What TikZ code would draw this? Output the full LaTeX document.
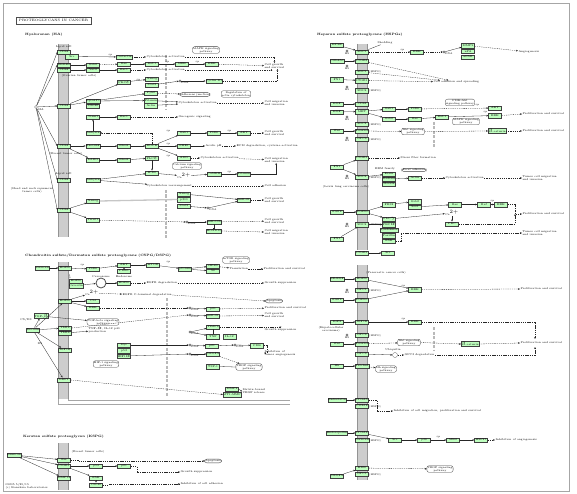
\documentclass[tikz,border=0pt]{standalone}
\usetikzlibrary{arrows.meta,positioning}
\definecolor{keggreen}{RGB}{191,255,191}
\definecolor{membgray}{RGB}{205,205,205}
\newcommand{\membrane}[4]{%
  \fill[membgray] (#1,#3) rectangle (#2,#4);
  \draw[gray!85, line width=1.2pt] (#1+0.6,#3) -- (#1+0.6,#4) (#2-0.6,#3) -- (#2-0.6,#4);}
\tikzset{
  gene/.style={draw=black!75, fill=keggreen, line width=0.3pt, minimum width=13pt,
    minimum height=4.6pt, inner sep=0.2pt, font=\fontsize{2.7}{3}\selectfont},
  pathway/.style={draw=black!75, fill=white, rounded corners=2.2pt, line width=0.3pt,
    inner sep=0.7pt, align=center, font=\fontsize{2.6}{2.9}\selectfont},
  txt/.style={inner sep=0.3pt, align=left, font=\fontsize{2.7}{3}\selectfont},
  sect/.style={inner sep=0, anchor=west, font=\bfseries\fontsize{3.2}{3.6}\selectfont},
  plab/.style={inner sep=0, font=\fontsize{2.5}{2.8}\selectfont},
  act/.style={-{Stealth[length=2pt,width=1.7pt]}, line width=0.3pt, black!85},
  ind/.style={act, dash pattern=on 1.3pt off 0.9pt},
  inh/.style={-{Bar[width=2.4pt]}, line width=0.3pt, black!85},
  bind/.style={line width=0.3pt, black!85},
  dna/.style={circle, draw=black!75, line width=0.3pt, minimum size=2.2pt, inner sep=0,
    label={[plab,yshift=0.3pt]below right:DNA}},
  hs/.style={circle, draw=black!75, line width=0.3pt, minimum size=2.2pt, inner sep=0,
    label={[plab]below:HS}},
  nucenv/.style={gray!55, line width=1.4pt, dash pattern=on 3pt off 1.5pt},
}
\begin{document}
\begin{tikzpicture}[x=1pt,y=-1pt]
\useasboundingbox (0,0) rectangle (577,494);
\draw[gray!70, line width=0.6pt] (3,3) rectangle (569,491);
\node[draw=black!70, line width=0.4pt, minimum width=75pt, minimum height=7pt, inner sep=0,
  font=\fontsize{3.4}{4}\selectfont] (title) at (53.5,20.5) {PROTEOGLYCANS IN CANCER};
\node[txt, anchor=north west] (stamp) at (5,483) {05205 5/25/15\\(c) Kanehisa Laboratories};

% ---------------- Hyaluronan ----------------
\node[sect] (haTitle) at (25,35) {Hyaluronan (HA)};
\membrane{58}{69}{44}{237}
\draw[nucenv] (166,55) -- (166,110);
\draw[nucenv] (166,190) -- (166,238);
\node[txt] (raftA) at (64,46.5) {Lipid raft};
\node[txt] (raftB) at (64,173.5) {Lipid raft};
\node[txt] (ovar) at (79,76) {(Ovarian tumor cells)};
\node[txt] (breast) at (66,154) {(Breast tumor cells)};
\node[txt, align=center] (hnsc) at (32,190) {(Head and neck squamous\\tumor cells)};
\node[circle, draw=black!80, line width=0.3pt, minimum size=3pt, inner sep=0] (ha) at (36,107) {};
\node[txt] (haLab) at (41,109.5) {HA};

\foreach \n/\x/\y/\t in {
  cdA/64/52/CD44, srcA/72/56.5/Src, cortactin/124/57/Cortactin,
  erbbA/64/65/ERBB2, cdB/64/70/CD44, grbA/93/65/Grb2, vavA/93/70/Vav2,
  rasA/124/64/Ras, racA/124/70/Rac1, rafA/152/64/Raf-1, mekA/182/64/MEK, erkA/212/64/ERK,
  pkcA/124/82/{PKC$\varepsilon$}, nanogA/152/79/Nanog, stat3A/152/85/Stat3,
  cyclin/214/81/{Cyclin D1},
  iqA/93/101/IQGAP1, cdcA/93/106/Cdc42, cdC/64/106/CD44,
  pyk2/151/93/Pyk2, filaminA/151/100.5/Filamin, actinA/151/105.5/Actin,
  tiamA/93/117/Tiam1, racB/124/117/Rac1, ankA/93/133/Ankyrin,
  cdD/64/146/CD44, gefA/93/146/RhoGEF, rhoA/124/146/RhoA, rock/152/146/ROCK,
  gab1/184/133/Gab1, pi3kA/214/133/PI3K, aktA/244/133/AKT, nhe/184/146/NHE1,
  larg/93/160/LARG, rhoB/124/160/RhoA, plc/152/158/{PLC$\varepsilon$}, add/184/158/ADD,
  ip3r/152/173/IP3R, camk/214/174/CaMKII, filaminB/244/174/Filamin,
  cdE/64/180/CD44, ankB/93/180/Ankyrin,
  cdF/64/210/CD44, nanogB/93/201/Nanog, twist/93/220/Twist1,
  nanogC/184/194/Nanog, p300/184/199.5/p300, stat3B/184/206/Stat3,
  mir21/244/200/miR-21, mir10/214/222/miR-10b, hoxd/214/231/HOXD10}
  \node[gene] (\n) at (\x,\y) {\t};

\node[pathway] (mapkA) at (206,50) {MAPK signaling\\pathway};
\node[pathway] (adher) at (195,94.5) {Adherens junction};
\node[pathway] (regact) at (236,94) {Regulation of\\actin cytoskeleton};
\node[pathway] (calc) at (187,166) {Calcium signaling\\pathway};

\node[txt, anchor=west] (caA) at (146,57) {Cytoskeleton activation};
\node[txt, anchor=west] (caB) at (146,70) {Cytoskeleton activation};
\node[txt, anchor=west] (cgA) at (264,66) {Cell growth\\and survival};
\node[txt, anchor=west] (caC) at (178,103) {Cytoskeleton activation};
\node[txt, anchor=west] (cmA) at (264,103) {Cell migration\\and invasion};
\node[txt, anchor=west] (onco) at (178,117) {Oncogenic signaling};
\node[txt, anchor=west] (cgB) at (264,133) {Cell growth\\and survival};
\node[txt, anchor=west] (acid) at (205,146) {Acidic pH};
\node[txt, anchor=west] (ecm) at (236,146) {ECM degradation, cysteine activation};
\node[txt, anchor=west] (caD) at (200,158) {Cytoskeleton activation};
\node[txt, anchor=west] (cmB) at (264,160) {Cell migration\\and invasion};
\node[txt] (caIon) at (184,176) {Ca$^{2+}$};
\node[txt, anchor=west] (crear) at (146,186) {Cytoskeleton rearrangement};
\node[txt, anchor=west] (adhes) at (264,186) {Cell adhesion};
\node[txt, anchor=west] (cgC) at (264,200) {Cell growth\\and survival};
\node[txt, anchor=west] (cgD) at (264,221) {Cell growth\\and survival};
\node[txt, anchor=west] (cmC) at (264,232) {Cell migration\\and invasion};
\node[dna] (dnaA) at (180,81) {};
\node[dna] (dnaB) at (208,208) {};
\node[dna] (dnaC) at (187,222) {};

\foreach \r in {cdA,erbbA,cdC,cdD,cdE,cdF}
  \draw[act] (ha) -- (\r.west);
\foreach \a/\b in {srcA/cortactin, erbbA/grbA, cdB/vavA, vavA/racA, rasA/rafA, rafA/mekA,
  mekA/erkA, cdC/pkcA, pkcA/nanogA, stat3A/dnaA, dnaA/cyclin, cdC/iqA, iqA/pyk2,
  iqA/filaminA, filaminA/caC, actinA/caC, ankA/tiamA, tiamA/racB, cdD/gefA, cdD/larg,
  gefA/rhoA, rhoA/rock, larg/rhoB, rhoB/plc, plc/ip3r, ankB/ip3r, rock/gab1, rock/nhe,
  rock/add, gab1/pi3kA, pi3kA/aktA, nhe/acid, ip3r/caIon, caIon/camk, camk/filaminB,
  ankB/crear, cdF/nanogB, cdF/twist, nanogC/mir21, stat3B/dnaB, dnaB/mir21, dnaC/mir10}
  \draw[act] (\a) -- (\b);
\foreach \a/\b in {cortactin/caA, grbA/rasA, erkA/cgA, racA/caB, racB/onco, aktA/cgB,
  acid/ecm, add/caD, caD/cmB, crear/adhes, mir21/cgC, twist/dnaC, mir10/cgD, caC/cmA, pyk2/adher}
  \draw[ind] (\a) -- (\b);
\draw[ind] (caA.east) -| (cgA.north);
\draw[ind] (caB.east) -| ([xshift=-3pt]cgA.south);
\draw[ind] (cyclin.east) -| ([xshift=3pt]cgA.south);
\draw[ind] (rock.north) |- (ankA.east);
\draw[act] (filaminB.east) -| (cmB.south);
\draw[ind] (hoxd.east) -- (cmC.west);
\draw[inh] (mir10) -- (hoxd);
\draw[gray!45, line width=1.3pt] (nanogB.east) -- (p300.west);
\foreach \x/\y in {110/54.5, 167/61.5, 197/61.5, 138/79.5, 168/131, 168/143.5, 168/155.5,
  229/131, 229/171.5}
  \node[plab] at (\x,\y) {+p};

% ---------------- CSPG / DSPG ----------------
\node[sect] (csTitle) at (25,256) {Chondroitin sulfate/Dermatan sulfate proteoglycans (CSPG/DSPG)};
\membrane{58}{69}{262}{399}
\draw[gray!70, line width=0.8pt] (58.6,399) -- (58.6,404.5) -- (290,404.5) (68.4,399) -- (68.4,400) -- (290,400);
\draw[nucenv] (167,298) -- (167,396);
\foreach \n/\x/\y/\t in {
  vcan/42/268/Versican, egfrA/65/268/EGFR, pi3kB/93/269/PI3K, aktB/124/265/AKT,
  pdk1/124/271/PDK1, mtor/153/265/mTOR, s6k/185/269/p70S6K, eif/213/266/eIF4B, s6/213/271/S6,
  egfrB/76/281/EGFR, cav/76/285.6/Caveolin, egfrC/124/283/EGFR,
  met/65/301/EGFR, cbl/93/301/Cbl, erkB/93/308/ERK,
  tgfb/41/316/{TGF-$\beta$}, decorin/33/330/Decorin, tlr2/65/328/TLR2, tlr4/65/333/TLR4,
  igf1rA/65/350/IGF1R, myc/124/345/Myc, p53/124/350.5/p53, hif/124/356/{HIF1$\alpha$},
  p21/213/309/p21, mir21B/213/316/miR-21, timp3/213/327/TIMP3, tnf/213/336.5/TNF,
  il12/229.5/336.5/IL-12, p21B/212/346/p21, cdk/257/345.5/CDK, vegfa/213/354/VEGFA,
  tsp1/213/366.5/TSP-1, mmp2/232/389/MMP2, mmp14/232/394.5/MT1-MMP, lrp/64/380/LRP1}
  \node[gene] (\n) at (\x,\y) {\t};
\node[pathway] (mtorp) at (236,260) {mTOR signaling\\pathway};
\node[pathway] (tgfp) at (103,322) {TGF-beta signaling\\pathway};
\node[pathway] (hifp) at (106,364) {HIF-1 signaling\\pathway};
\node[pathway] (vegfp) at (249,367) {VEGF signaling\\pathway};
\node[pathway] (apop) at (274,301) {Apoptosis};
\node[circle, draw=black!70, line width=0.8pt, minimum size=10pt, inner sep=0] (caveo) at (101,283) {};
\node[txt] (caveoLab) at (101,276.5) {Caveosome};
\node[txt] (endoLab) at (124,277) {Endosome};
\node[txt, anchor=west] (transl) at (229,269) {Translation};
\node[txt, anchor=west] (prolA) at (263,269) {Proliferation and survival};
\node[txt, anchor=west] (degA) at (146,283) {EGFR degradation};
\node[txt, anchor=west] (gsA) at (264,283) {Growth suppression};
\node[txt] (caIonB) at (92,293) {Ca$^{2+}$};
\node[txt, anchor=west] (ctd) at (122,295) {EGFR C-terminal degradation};
\node[txt] (csds) at (26,320) {CS/DS};
\node[txt] (dsLab) at (40,344) {DS};
\node[txt, anchor=west] (tnfTxt) at (88,330) {TNF-$\alpha$, IL-12 p40\\production};
\node[txt, anchor=west] (prolB) at (264,308) {Proliferation and survival};
\node[txt, anchor=west] (cgE) at (264,315.5) {Cell growth\\and survival};
\node[txt, anchor=west] (gsB) at (264,330) {Growth suppression};
\node[txt, anchor=west] (inang) at (264,353) {Inhibition of\\tumor angiogenesis};
\node[txt, anchor=west] (matrix) at (242,391.5) {Matrix-bound\\VEGF release};
\foreach \n/\x/\y in {dnaD/190/308, dnaE/190/315, dnaF/190/332, dnaG/190/345, dnaH/235/345, dnaI/190/354}
  \node[dna] (\n) at (\x,\y) {};

\foreach \a/\b in {vcan/egfrA, egfrA/pi3kB, pi3kB/aktB, pdk1/aktB, aktB/mtor, mtor/s6k,
  s6k/eif, s6k/s6, cav/caveo, caveo/egfrC, met/cbl, met/caIonB, met/erkB, decorin/tgfb,
  decorin/tlr2, decorin/igf1rA, decorin/met, tgfb/tgfp, tlr4/tnfTxt, dnaD/p21, dnaE/mir21B,
  dnaF/timp3, dnaF/tnf, dnaG/p21B, p21B/dnaH, dnaH/cdk, dnaI/vegfa, myc/dnaG, hif/dnaI,
  decorin/lrp}
  \draw[act] (\a) -- (\b);
\foreach \a/\b in {eif/transl, transl/prolA, egfrC/degA, degA/gsA, caIonB/ctd, erkB/dnaD,
  p21/prolB, mir21B/cgE, vegfa/vegfp}
  \draw[ind] (\a) -- (\b);
\draw[ind] (ctd.east) -- (apop.west);
\draw[ind] (tlr2.east) -- (dnaE.west);
\draw[ind] (timp3.east) -| (gsB.north);
\draw[ind] (cdk.east) -- ++(3,0) |- (inang.west);
\draw[ind] (lrp.east) -- (mmp14.west);
\draw[ind] (mmp2.east) -- (matrix.west);
\draw[bind] (timp3) -- (tnf);
\draw[act, gray!65, line width=0.8pt] (69,274) to[bend left=25] (egfrB.north west);
\draw[bind] (tsp1.east) -- (vegfp.west);
\node[plab] at (82,265) {+p};
\node[plab] at (168,262) {+p};

% ---------------- KSPG ----------------
\node[sect] (ksTitle) at (23,437) {Keratan sulfate proteoglycan (KSPG)};
\membrane{58}{69}{443}{490}
\foreach \n/\x/\y/\t in {
  lum/14/455/Lumican, fasR/64/460/Fas, itgK/64/466/ITGB1, mmpK/64/478/MMP14,
  p53K/96/466/p53, p21K/124/466/p21, fakK/96/478/FAK, cdhK/96/485/Cdc42}
  \node[gene] (\n) at (\x,\y) {\t};
\node[txt] (brK) at (88,452) {(Breast tumor cells)};
\node[pathway] (apopK) at (213,461) {Apoptosis};
\node[txt, anchor=west] (gsK) at (180,472) {Growth suppression};
\node[txt, anchor=west] (icaK) at (180,484) {Inhibition of cell adhesion};
\foreach \a/\b in {lum/fasR, lum/itgK, lum/mmpK, itgK/p53K, p53K/p21K, itgK/fakK, fakK/cdhK}
  \draw[act] (\a) -- (\b);
\draw[ind] (fasR.east) -- ++(8,0) |- (apopK.west);
\draw[ind] (p21K.east) -- ++(6,0) |- (gsK.west);
\draw[ind] (cdhK.east) -- ++(6,0) |- (icaK.west);

% ---------------- HSPGs ----------------
\node[sect] (hsTitle) at (317,35) {Heparan sulfate proteoglycans (HSPGs)};
\membrane{357}{368}{44}{250}
\membrane{357}{368}{265}{480}
\draw[nucenv] (434,122) -- (434,148);
\draw[nucenv] (434,327) -- (434,350);
\foreach \n/\x/\y/\t in {
  hpse/337/45/HPSE, sdc1A/362/52/SDC1, erkR/417/52/ERK,
  mmp9/468/45.5/MMP9, upa/468/51.2/uPA, upar/468/57/uPAR,
  col/337/61/COL4A1, itgA/362/61/ITGB3, sdc1B/362/72/SDC1, fn/337/79.5/FN1,
  itgB/362/80.5/ITGB1, sdc4A/362/90.5/SDC4, hgf/337/104/HGF, cd44R/362/104/CD44,
  metR/362/111.5/MET, hgfB/337/112/HGF, gab1R/389/109/Gab1, grb2R/389/119/Grb2,
  pi3kR/415/109/PI3K, rasR/415/119/Ras, rafR/442/117/Raf-1, aktR/495/108/AKT, erkR1/495/115.5/ERK,
  sdcR/362/124/SDC2,
  wnt/337/131/Wnt, fzdA/362/131/Frizzled, gpc3A/362/139/GPC3, ctnR/497/131/{$\beta$-catenin},
  itgC/362/158/ITGB1, fnB/337/167/FN1, sdc4B/362/177/SDC4,
  ezrin/389/174/Ezrin, radixin/389/179/Radixin, moesin/389/184/Moesin, actinR/415/178/Actin,
  fgf2/337/212/FGF2, fgfr1/363/212/FGFR1, frs2/389/204.5/FRS2, plcg/389/219/{PLC$\gamma$},
  grb2B/415/201.5/Grb2, sos1/415/207/Sos1, rasB/455/204.5/Ras, rafB/484/204.5/Raf, erkR2/501/204.5/ERK,
  pkcR/452/224/PKC, sdc4C/362/224.5/SDC4, pkca/389/224.5/{PKC$\alpha$}, synd/389/230/Syndesmos,
  pax/389/235.5/Paxillin, fak/389/241/FAK, fnC/337/239/FN1, itgD/362/253/ITGB1, srcR/388/253/Src,
  hbegf/337/279/HB-EGF, egfrR/362/279/EGFR, gpc1/362/290/GPC1, fgf2B/337/300/FGF2,
  fgfr1B/362/300/FGFR1, erkR3/415/289.5/ERK,
  igf2/337/322/IGF2, igf1r/362/322/IGF1R, erkR4/415/322/ERK, gpc3B/362/335/GPC3,
  wnt5/337/344/Wnt, fzdB/362/344/Frizzled, ctnB/470/344/{$\beta$-catenin}, gpc3C/362/354/GPC3,
  hh/337/366/Hh, ptch/362/366/Patched,
  endost/337/400/Endostatin, itga5/362/400/ITGA5, col18/362/406/COL18,
  endorep/337/433/Endorepellin, itga2/362/433/ITGA2, perl/362/440/Perlecan,
  srcL/395/440/Src, p38/424/440/p38, mk2/453/440/MK2, hsp27/481/440/HSP27,
  vegfL/337/476/VEGFA, kdr/362/468/KDR, gpcL/362/474/GPC1}
  \node[gene] (\n) at (\x,\y) {\t};

\node[pathway] (pi3kp) at (460,102.5) {PI3K-Akt\\signaling pathway};
\node[pathway] (mapkR) at (466,121.5) {MAPK signaling\\pathway};
\node[pathway] (wntpA) at (413,131.5) {Wnt signaling\\pathway};
\node[pathway] (focal) at (414,170) {Focal adhesion};
\node[pathway] (wntpB) at (409,342.5) {Wnt signaling\\pathway};
\node[pathway] (hhp) at (386,369) {Hh signaling\\pathway};
\node[pathway] (vegfpR) at (440,469) {VEGF signaling\\pathway};
\node[txt] (shed) at (385,43) {Shedding};
\node[txt, anchor=west] (angio) at (518,52) {Angiogenesis};
\node[txt, anchor=west] (adhR) at (433,82) {Cell adhesion and spreading};
\node[txt, anchor=west] (prolR1) at (522,114) {Proliferation and survival};
\node[txt, anchor=west] (prolR2) at (522,131) {Proliferation and survival};
\node[txt, anchor=west] (stress) at (400,158) {Stress fiber formation};
\node[txt] (erm) at (385,168.5) {ERM family};
\node[txt, anchor=west] (caR) at (445,178) {Cytoskeleton activation};
\node[txt, anchor=west] (tumR1) at (522,178) {Tumor cell migration\\and invasion};
\node[txt] (lewis) at (346,186.5) {(Lewis lung carcinoma cells)};
\node[txt] (caIonR) at (452,213) {Ca$^{2+}$};
\node[txt, anchor=west] (prolR3) at (522,214) {Proliferation and survival};
\node[txt, anchor=west] (tumR2) at (522,233) {Tumor cell migration\\and invasion};
\node[txt] (panc) at (386,273) {(Pancreatic cancer cells)};
\node[txt, anchor=west] (prolR4) at (520,289) {Proliferation and survival};
\node[txt, align=center] (hcc) at (331,329) {(Hepatocellular\\carcinoma)};
\node[txt, anchor=west] (prolR5) at (520,343) {Proliferation and survival};
\node[circle, draw=black!60, line width=0.3pt, minimum size=5pt, inner sep=0] (ubq) at (395,355) {};
\node[txt] (ubqLab) at (393,350) {Ubiquitin};
\node[txt, anchor=west] (degR) at (404,355) {GPC3 degradation};
\node[txt, anchor=west] (inmig) at (393,411) {Inhibition of cell migration, proliferation and survival};
\node[txt, anchor=west] (inangR) at (495,440) {Inhibition of angiogenesis};
\foreach \n/\x/\y in {hs1/347/51, hs2/347/66, hs3/347/87, hs4/347/117, hs5/347/138,
  hs6/347/176, hs7/347/224, hs8/347/290, hs9/347/335}
  \node[hs] (\n) at (\x,\y) {};
\node[dna] (dnaR) at (444,52) {};
\foreach \l/\y in {sdc1B/71.5, sdc4A/91, sdcR/124.5, gpc3A/139.5, sdc4B/177.5, sdc4C/225,
  gpc1/291, gpc3B/336, col18/406.5, perl/440.5, gpcL/474.5}
  \node[plab, anchor=west] at (369,\y) {(HSPG)};

\foreach \a/\b in {hpse/sdc1A, col/itgA, fn/itgB, hgf/cd44R, hgfB/metR, metR/gab1R,
  metR/grb2R, gab1R/pi3kR, grb2R/rasR, rasR/rafR, rafR/erkR1, wnt/fzdA, fnB/itgC, fnB/sdc4B,
  sdc4B/ezrin, radixin/actinR, fgf2/fgfr1, fgfr1/frs2, fgfr1/plcg, frs2/grb2B, sos1/rasB,
  rasB/rafB, rafB/erkR2, plcg/caIonR, caIonR/pkcR, fnC/sdc4C, sdc4C/pkca, itgD/srcR,
  hbegf/egfrR, fgf2B/fgfr1B, egfrR/erkR3, fgfr1B/erkR3, igf2/igf1r, igf1r/erkR4, wnt5/fzdB,
  hh/ptch, dnaR/mmp9, gpc3C/ubq, endost/itga5, endorep/itga2, itga2/srcL, srcL/p38,
  p38/mk2, mk2/hsp27, vegfL/kdr}
  \draw[act] (\a) -- (\b);
\foreach \a/\b in {sdc1A/erkR, itgA/adhR, sdc1B/adhR, itgB/adhR, pi3kR/aktR, fzdA/wntpA,
  itgC/stress, actinR/caR, caR/tumR1, fzdB/wntpB, ptch/hhp, ubq/degR, mmp9/angio,
  hsp27/inangR, kdr/vegfpR}
  \draw[ind] (\a) -- (\b);
\draw[ind] (itga5.east) -- ++(8,0) |- (inmig.west);
\draw[ind] (erkR) -- (dnaR);
\draw[ind] (erkR1.east) -- (prolR1.west);
\draw[ind] (wntpA.east) -- (ctnR.west);
\draw[ind] (ctnR.east) -- (prolR2.west);
\draw[ind] (erkR2.east) -- (515,204.5) |- (prolR3.west);
\draw[ind] (pkcR.east) -| (515,214);
\draw[ind] (fak.east) -- ++(5,0) |- (tumR2.west);
\draw[ind] (erkR3.east) -- (prolR4.west);
\draw[ind] (erkR4.east) -- (535,322) -- (535,339);
\draw[ind] (wntpB.east) -- (ctnB.west);
\draw[ind] (ctnB.east) -- (prolR5.west);
\draw[ind] (degR.east) -| (535,347);
\draw[bind] (sdc1A) -- (shed);
\foreach \x/\y in {402/49.5, 485/112, 477/105, 403/285.5, 403/318.5, 492/200.5, 438/436.5}
  \node[plab] at (\x,\y) {+p};
\end{tikzpicture}
\end{document}
